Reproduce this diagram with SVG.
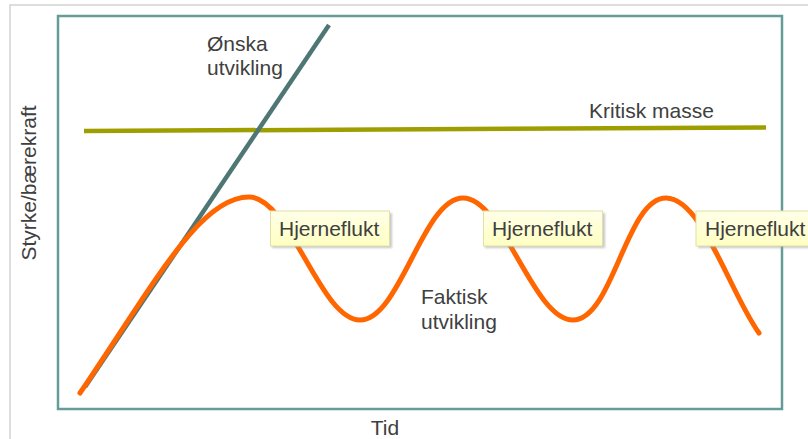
<svg xmlns="http://www.w3.org/2000/svg" width="808" height="439" viewBox="0 0 808 439">
<style>
text{font-family:"Liberation Sans",Arial,sans-serif;fill:#404040;font-size:21px}
.box{fill:url(#yel);stroke:#E0E0A8;stroke-width:1}
.shadow{fill:#9a9a9a;opacity:0.55}
</style>
<defs>
<linearGradient id="yel" x1="0" y1="0" x2="0" y2="1">
<stop offset="0" stop-color="#FFFFE8"/>
<stop offset="1" stop-color="#FFFFC2"/>
</linearGradient>
<filter id="blur" x="-10%" y="-10%" width="120%" height="130%"><feGaussianBlur stdDeviation="1"/></filter>
</defs>
<rect width="808" height="439" fill="#ffffff"/>
<g id="frame" fill="none">
<path d="M10,439 V5 H808" stroke="#D2D2D2" stroke-width="1.5"/>
<rect x="58" y="16" width="724" height="393" stroke="#669C98" stroke-width="2.5"/>
</g>
<g id="connectors" fill="none" stroke-linecap="butt">
<line id="kritisk" x1="84" y1="131" x2="766" y2="127.5" stroke="#9E9E00" stroke-width="4.5"/>
<line id="onska" x1="329" y1="25" x2="85" y2="387" stroke="#4E7674" stroke-width="4.5"/>
<path id="faktisk" d="M80,393 C156,281 200,197 249,197 C290,197 320,320 360,320 C400,320 423,198 463,198 C503,198 533,320 573,320 C613,320 626,198 666,198 C702,198 730,293 759,333" stroke="#FF6600" stroke-width="5" stroke-linecap="round"/>
</g>
<g id="label-onska"><text x="207" y="51">Ønska</text><text x="207" y="75">utvikling</text></g>
<g id="label-kritisk"><text x="589" y="118">Kritisk masse</text></g>
<g id="label-faktisk"><text x="421" y="304">Faktisk</text><text x="421" y="329">utvikling</text></g>
<g id="axis-y"><text transform="translate(36,183) rotate(-90)" text-anchor="middle">Styrke/bærekraft</text></g>
<g id="axis-x"><text x="385" y="435" text-anchor="middle">Tid</text></g>
<g id="hjerneflukt-1">
<rect class="shadow" x="272" y="213" width="120" height="35" filter="url(#blur)"/>
<rect class="box" x="270.5" y="211" width="119" height="35"/>
<text x="279" y="236">Hjerneflukt</text>
</g>
<g id="hjerneflukt-2">
<rect class="shadow" x="485" y="213" width="120" height="35" filter="url(#blur)"/>
<rect class="box" x="483.5" y="211" width="119" height="35"/>
<text x="492" y="236">Hjerneflukt</text>
</g>
<g id="hjerneflukt-3">
<rect class="shadow" x="698" y="213" width="120" height="35" filter="url(#blur)"/>
<rect class="box" x="696" y="211" width="119" height="35"/>
<text x="705" y="236">Hjerneflukt</text>
</g>
</svg>
